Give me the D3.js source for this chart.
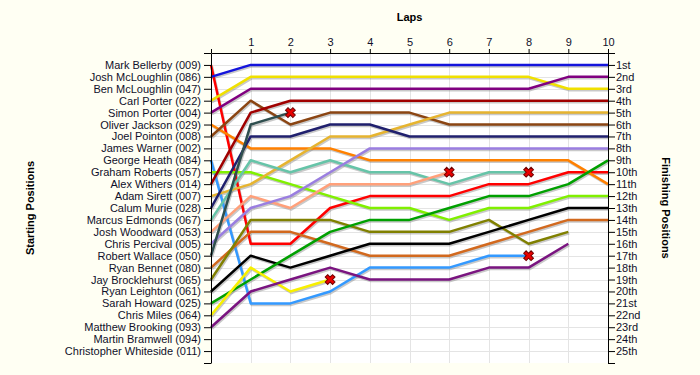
<!DOCTYPE html>
<html>
<head>
<meta charset="utf-8">
<script src="https://cdn.jsdelivr.net/npm/d3@7"></script>
<style>
  body { margin: 0; background: #fffff3; }
  svg { display: block; font-family: "Liberation Sans", Arial, sans-serif; }
</style>
</head>
<body>
<svg width="700" height="375"></svg>
<script>
// drivers in starting order (label on the left axis)
var drivers = [
  "Mark Bellerby (009)", "Josh McLoughlin (086)", "Ben McLoughlin (047)", "Carl Porter (022)",
  "Simon Porter (004)", "Oliver Jackson (029)", "Joel Pointon (008)", "James Warner (002)",
  "George Heath (084)", "Graham Roberts (057)", "Alex Withers (014)", "Adam Sirett (007)",
  "Calum Murie (028)", "Marcus Edmonds (067)", "Josh Woodward (053)", "Chris Percival (005)",
  "Robert Wallace (050)", "Ryan Bennet (080)", "Jay Brocklehurst (065)", "Ryan Leighton (061)",
  "Sarah Howard (025)", "Chris Miles (064)", "Matthew Brooking (093)", "Martin Bramwell (094)",
  "Christopher Whiteside (011)"
];

// position at the end of each lap (index 0 = grid), null = no line
var positions = [
  [1, 16, 16, 13, 12, 12, 12, 11, 11, 10, 10],
  [2, 1, 1, 1, 1, 1, 1, 1, 1, 1, 1],
  null,
  [4, 2, 2, 2, 2, 2, 2, 2, 2, 3, 3],
  [5, 3, 3, 3, 3, 3, 3, 3, 3, 2, 2],
  [6, 8, 8, 8, 9, 9, 9, 9, 9, 9, 11],
  [7, 4, 6, 5, 5, 5, 6, 6, 6, 6, 6],
  null,
  [9, 21, 21, 20, 18, 18, 18, 17, 17],
  [10, 10, 11, 12, 13, 13, 14, 13, 13, 12, 12],
  [11, 5, 4, 4, 4, 4, 4, 4, 4, 4, 4],
  [12, 11, 9, 7, 7, 6, 5, 5, 5, 5, 5],
  [13, 7, 7, 6, 6, 7, 7, 7, 7, 7, 7],
  [14, 9, 10, 9, 10, 10, 11, 10, 10],
  [15, 12, 13, 11, 11, 11, 10],
  [16, 13, 12, 10, 8, 8, 8, 8, 8, 8, 8],
  [17, 6, 5],
  [18, 15, 15, 16, 17, 17, 17, 16, 15, 14, 14],
  [19, 14, 14, 14, 15, 15, 15, 14, 16, 15],
  [20, 17, 18, 17, 16, 16, 16, 15, 14, 13, 13],
  [21, 19, 17, 15, 14, 14, 13, 12, 12, 11, 9],
  [22, 18, 20, 19],
  [23, 20, 19, 18, 19, 19, 19, 18, 18, 16],
  null,
  null
];

// true where the driver retired (red cross at the last point)
var retired = [
  false, false, false, false, false, false, false, false, true, false,
  false, false, false, true, true, false, true, false, false, false,
  false, true, false, false, false
];

var lapTicks = [0, 1, 2, 3, 4, 5, 6, 7, 8, 9, 10];
var finishLabels = ["1st", "2nd", "3rd", "4th", "5th", "6th", "7th", "8th", "9th", "10th",
  "11th", "12th", "13th", "14th", "15th", "16th", "17th", "18th", "19th", "20th",
  "21st", "22nd", "23rd", "24th", "25th"];

var colors = [
  "#ff0000", "#1414dc", null, "#f0e000", "#800080", "#ff8000", "#8b4513", null,
  "#3399ff", "#80f000", "#a00000", "#e6b430", "#20206e", "#66c4a8", "#ffa07a", "#9a7ee0",
  "#2f4f4f", "#d2691e", "#808000", "#000000", "#00a000", "#f8f000", "#7a1480", null, null
];

var svg = d3.select("svg"),
    margin = {top: 53, right: 92, bottom: 12, left: 211},
    width = +svg.attr("width") - margin.left - margin.right,
    height = +svg.attr("height") - margin.top - margin.bottom;

var x = d3.scaleLinear().domain([0, 10]).range([0, width]);
var y = d3.scaleLinear().domain([0, 26]).range([0, height]);

var g = svg.append("g").attr("transform", "translate(" + margin.left + "," + margin.top + ")");

g.append("rect").attr("width", width).attr("height", height).attr("fill", "#ffffff");

// grid
g.append("g").selectAll("line")
  .data(d3.range(1, 10))
  .enter().append("line")
  .attr("x1", function(d) { return Math.round(x(d)) + 0.5; })
  .attr("x2", function(d) { return Math.round(x(d)) + 0.5; })
  .attr("y1", 0).attr("y2", height)
  .attr("stroke", "#e4e4e4");

g.append("g").selectAll("line")
  .data(d3.range(1, 26))
  .enter().append("line")
  .attr("y1", function(d) { return Math.round(y(d)) + 0.5; })
  .attr("y2", function(d) { return Math.round(y(d)) + 0.5; })
  .attr("x1", 0).attr("x2", width)
  .attr("stroke", "#e4e4e4");

// lines
var line = d3.line()
  .x(function(d, i) { return x(i); })
  .y(function(d) { return y(d); });

var rows = [];
positions.forEach(function(p, i) {
  if (p) rows.push({pos: p, color: colors[i], retired: retired[i]});
});

g.append("g").attr("transform", "translate(1,1.5)")
  .selectAll("path").data(rows).enter().append("path")
  .attr("d", function(d) { return line(d.pos); })
  .attr("fill", "none").attr("stroke", "#888").attr("stroke-opacity", 0.45)
  .attr("stroke-width", 2.5).attr("stroke-linejoin", "round");

g.append("g")
  .selectAll("path").data(rows).enter().append("path")
  .attr("d", function(d) { return line(d.pos); })
  .attr("fill", "none").attr("stroke", function(d) { return d.color; })
  .attr("stroke-width", 2.5).attr("stroke-linejoin", "round");

// retirement crosses
var cross = d3.symbol().type(d3.symbolCross).size(60);
g.append("g").selectAll("path")
  .data(rows.filter(function(d) { return d.retired; }))
  .enter().append("path")
  .attr("d", cross)
  .attr("transform", function(d) {
    var n = d.pos.length - 1;
    return "translate(" + x(n) + "," + y(d.pos[n]) + ") rotate(45)";
  })
  .attr("fill", "#e80000").attr("stroke", "#700000").attr("stroke-width", 1);

// axes
var topAxis = d3.axisTop(x).tickValues(lapTicks).tickSizeInner(4).tickSizeOuter(0).tickPadding(3)
  .tickFormat(function(d) { return d === 0 ? "" : d; });
var leftAxis = d3.axisLeft(y).tickValues(d3.range(0, 27)).tickSizeInner(7).tickSizeOuter(0).tickPadding(3)
  .tickFormat(function(d) { return d >= 1 && d <= 25 ? drivers[d - 1] : ""; });
var rightAxis = d3.axisRight(y).tickValues(d3.range(0, 27)).tickSizeInner(7).tickSizeOuter(0).tickPadding(1)
  .tickFormat(function(d) { return d >= 1 && d <= 25 ? finishLabels[d - 1] : ""; });

g.append("g").attr("class", "axis").call(topAxis);
g.append("g").attr("class", "axis").call(leftAxis);
g.append("g").attr("class", "axis").attr("transform", "translate(" + width + ",0)").call(rightAxis);

svg.selectAll(".axis text")
  .attr("font-family", "'Liberation Sans', Arial, sans-serif")
  .attr("font-size", 11)
  .attr("fill", "#10102a");
svg.selectAll(".axis").attr("font-size", null).attr("font-family", null);

// titles
svg.append("text").attr("x", margin.left + width / 2).attr("y", 21)
  .attr("text-anchor", "middle").attr("font-weight", "bold").attr("font-size", 11)
  .text("Laps");

svg.append("text")
  .attr("transform", "translate(30," + (margin.top + height / 2) + ") rotate(-90)")
  .attr("text-anchor", "middle").attr("dy", "0.35em").attr("font-weight", "bold").attr("font-size", 11)
  .text("Starting Positions");

svg.append("text")
  .attr("transform", "translate(666," + (margin.top + height / 2) + ") rotate(90)")
  .attr("text-anchor", "middle").attr("dy", "0.35em").attr("font-weight", "bold").attr("font-size", 11)
  .text("Finishing Positions");
</script>
</body>
</html>
